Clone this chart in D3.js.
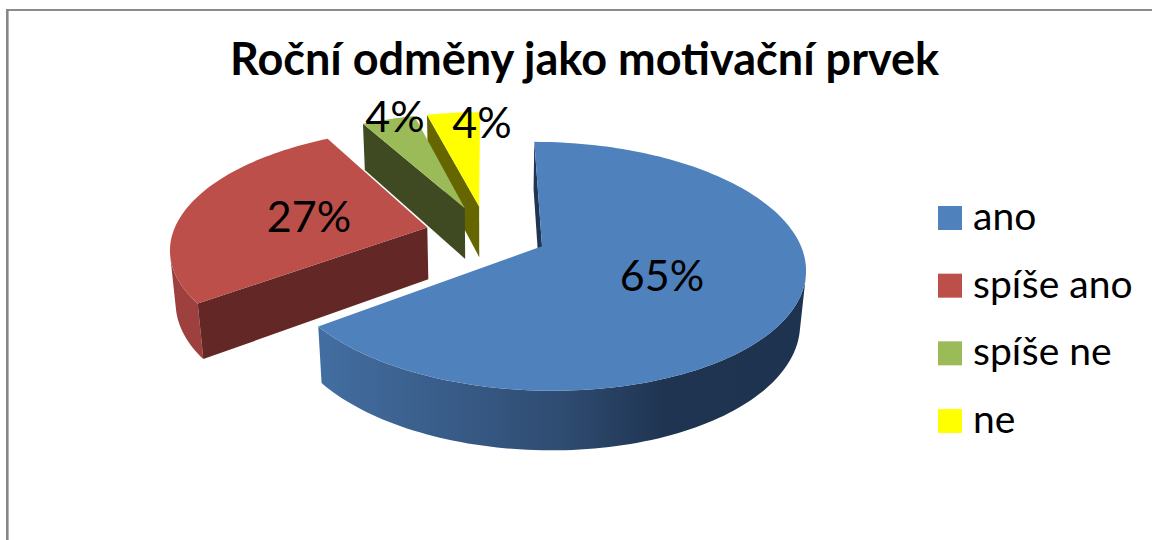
<!DOCTYPE html>
<html>
<head>
<meta charset="utf-8">
<script src="https://cdn.jsdelivr.net/npm/d3@7"></script>
<style>
  body { margin: 0; background: #fff; }
  text { font-family: Lato, "Open Sans", sans-serif; fill: #000; }
</style>
</head>
<body>
<div id="chart"></div>
<script>
var categories = ['ano', 'spíše ano', 'spíše ne', 'ne'];
var values = [64.8, 27.2, 4, 4];
var labels = ['65%', '27%', '4%', '4%'];
var titleText = 'Roční odměny jako motivační prvek';

var topColors = ['#4f81bd', '#bd4f4b', '#9bbb59', '#ffff00'];
var sideColors = ['#1f3552', '#632726', '#3f4a23', '#666600'];
var rimColors = ['url(#blueRim)', '#9e413e', '#7c9647', '#cccc00'];

var width = 1152, height = 540;

// camera for the tilted pie, fitted by eye against the reference
var cam = {cx: 486.5, cy: 233.4, rx: 254.5, ry: 117.1, k: 0.1588, depth: 53, shrink: 0.018};
var explode = 0.24;

// X, Y are on the pie's plane (radius 1), z is 0 on top and 1 on the bottom
function project(X, Y, z) {
  var w = 1 - cam.k * Y + cam.shrink * z;
  return [cam.cx + cam.rx * X / w, cam.cy + (cam.ry * Y + cam.depth * z) / w];
}

var svg = d3.select('#chart').append('svg')
    .attr('width', width)
    .attr('height', height);

var grad = svg.append('defs').append('linearGradient')
    .attr('id', 'blueRim')
    .attr('gradientUnits', 'userSpaceOnUse')
    .attr('x1', 320).attr('x2', 800).attr('y1', 0).attr('y2', 0);
grad.append('stop').attr('offset', 0).attr('stop-color', '#436ea1');
grad.append('stop').attr('offset', 0.5).attr('stop-color', '#2f4c72');
grad.append('stop').attr('offset', 0.72).attr('stop-color', '#1f3451');
grad.append('stop').attr('offset', 1).attr('stop-color', '#1e3350');

// frame, only top and left show in the crop
svg.append('line').attr('x1', 6).attr('x2', width).attr('y1', 10).attr('y2', 10)
    .attr('stroke', '#8c8c8c').attr('stroke-width', 2);
svg.append('line').attr('x1', 7.3).attr('x2', 7.3).attr('y1', 9).attr('y2', height)
    .attr('stroke', '#878787').attr('stroke-width', 2.6);

svg.append('text')
    .attr('x', 584.5)
    .attr('y', 75)
    .attr('text-anchor', 'middle')
    .attr('font-weight', 700)
    .attr('font-size', 45)
    .text(titleText);

var pie = d3.pie().sort(null);

var line = d3.line();

function arcPoints(d, z) {
  var mid = (d.startAngle + d.endAngle) / 2,
      ox = explode * Math.sin(mid),
      oy = -explode * Math.cos(mid),
      n = Math.ceil((d.endAngle - d.startAngle) * 40);
  return d3.range(n + 1).map(function(i) {
    var a = d.startAngle + (d.endAngle - d.startAngle) * i / n;
    return project(ox + Math.sin(a), oy - Math.cos(a), z);
  });
}

function apex(d, z) {
  var mid = (d.startAngle + d.endAngle) / 2;
  return project(explode * Math.sin(mid), -explode * Math.cos(mid), z);
}

// keep only the stretch of the rim that faces the camera, so its outline
// joins the top face at the silhouette instead of leaving a notch
function rimPath(d) {
  var t = arcPoints(d, 0), b = arcPoints(d, 1), top = [], bottom = [];
  t.forEach(function(p, i) {
    var q = t[Math.min(i + 1, t.length - 1)], r = t[Math.max(i - 1, 0)];
    var cross = (q[0] - r[0]) * (b[i][1] - p[1]) - (q[1] - r[1]) * (b[i][0] - p[0]);
    if (cross < 0) { top.push(p); bottom.push(b[i]); }
  });
  return top.length ? line(top.concat(bottom.reverse())) + 'Z' : null;
}

// back slices first so the front ones cover them
var slices = pie(values).slice().reverse();

var g = svg.selectAll('.slice')
    .data(slices)
  .enter().append('g')
    .attr('class', 'slice');

g.append('path')
    .attr('d', rimPath)
    .attr('fill', function(d) { return rimColors[d.index]; });

// only the wall at the start angle ever faces the camera here
g.append('path')
    .attr('d', function(d) {
      var t = arcPoints(d, 0), b = arcPoints(d, 1);
      return line([t[0], apex(d, 0), apex(d, 1), b[0]]) + 'Z';
    })
    .attr('fill', function(d) { return sideColors[d.index]; });

g.append('path')
    .attr('d', function(d) {
      return line(arcPoints(d, 0).concat([apex(d, 0)])) + 'Z';
    })
    .attr('fill', function(d) { return topColors[d.index]; });

// data labels sit where the reference has them
var labelX = [662, 309, 395, 482];
var labelY = [291, 232, 132, 138];

svg.selectAll('.label')
    .data(labels)
  .enter().append('text')
    .attr('class', 'label')
    .attr('x', function(d, i) { return labelX[i]; })
    .attr('y', function(d, i) { return labelY[i]; })
    .attr('text-anchor', 'middle')
    .attr('font-size', 43)
    .text(function(d) { return d; });

var legendY = d3.scalePoint()
    .domain(categories)
    .range([218, 421]);

var legend = svg.selectAll('.legend')
    .data(categories)
  .enter().append('g')
    .attr('class', 'legend')
    .attr('transform', function(d) { return 'translate(938,' + legendY(d) + ')'; });

legend.append('rect')
    .attr('y', -12)
    .attr('width', 24)
    .attr('height', 24)
    .attr('fill', function(d, i) { return topColors[i]; });

legend.append('text')
    .attr('x', 35)
    .attr('y', 12)
    .attr('font-size', 39)
    .text(function(d) { return d; });
</script>
</body>
</html>
